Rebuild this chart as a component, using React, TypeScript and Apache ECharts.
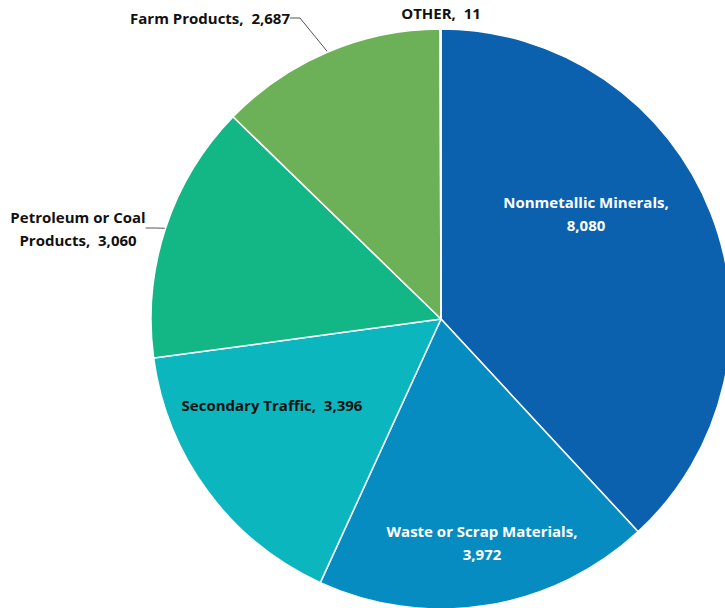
import React, { useEffect, useRef } from "react";
import * as echarts from "echarts";

const categories = [
  "Nonmetallic Minerals",
  "Waste or Scrap Materials",
  "Secondary Traffic",
  "Petroleum or Coal Products",
  "Farm Products",
  "OTHER",
];
const values = [8080, 3972, 3396, 3060, 2687, 11];
const colors = ["#0C61AE", "#078CC1", "#0BB6BF", "#13B786", "#6CB157", "#0C61AE"];

const fmt = (v: number) => v.toLocaleString("en-US");

export default function App() {
  const ref = useRef<HTMLDivElement>(null);
  useEffect(() => {
    if (!ref.current) return;
    const chart = echarts.init(ref.current, undefined, { renderer: "svg" });
    const texts: Record<number, string> = {
      0: `${categories[0]},\n${fmt(values[0])}`,
      1: `${categories[1]},\n${fmt(values[1])}`,
      2: `${categories[2]},  ${fmt(values[2])}`,
      3: `Petroleum or Coal\nProducts,  ${fmt(values[3])}`,
      4: `${categories[4]},  ${fmt(values[4])}`,
      5: `${categories[5]},  ${fmt(values[5])}`,
    };
    const labelPos: Record<number, [number, number]> = {
      0: [586, 213],
      1: [482, 542],
      2: [272, 405],
      3: [78, 228],
      4: [210, 18],
      5: [441, 13],
    };
    const textColor = ["#ffffff", "#ffffff", "#111111", "#111111", "#111111", "#111111"];
    chart.setOption({
      animation: false,
      series: [
        {
          type: "pie",
          center: [441, 319],
          radius: 290,
          startAngle: 90,
          clockwise: true,
          avoidLabelOverlap: false,
          itemStyle: { borderColor: "#ffffff", borderWidth: 1.5 },
          label: {
            show: true,
            position: "outside",
            fontFamily: "Open Sans",
            fontWeight: "bold",
            fontSize: 15,
            lineHeight: 23,
            align: "center",
          },
          labelLine: {
            show: true,
            length: 10,
            length2: 10,
            lineStyle: { color: "#555555", width: 1 },
          },
          labelLayout: (params: any) => {
            const i = params.dataIndex;
            const [x, y] = labelPos[i];
            return { x, y, align: "center", verticalAlign: "middle" };
          },
          data: values.map((v, i) => ({
            name: categories[i],
            value: v,
            itemStyle: { color: colors[i] },
            label: {
              formatter: () => texts[i],
              color: textColor[i],
            },
            labelLine: { show: i === 3 || i === 4 },
          })),
        },
      ],
    });
    return () => chart.dispose();
  }, []);
  return (
    <div
      ref={ref}
      style={{ position: "fixed", left: 0, top: 0, width: 725, height: 608, background: "#fff" }}
    />
  );
}
